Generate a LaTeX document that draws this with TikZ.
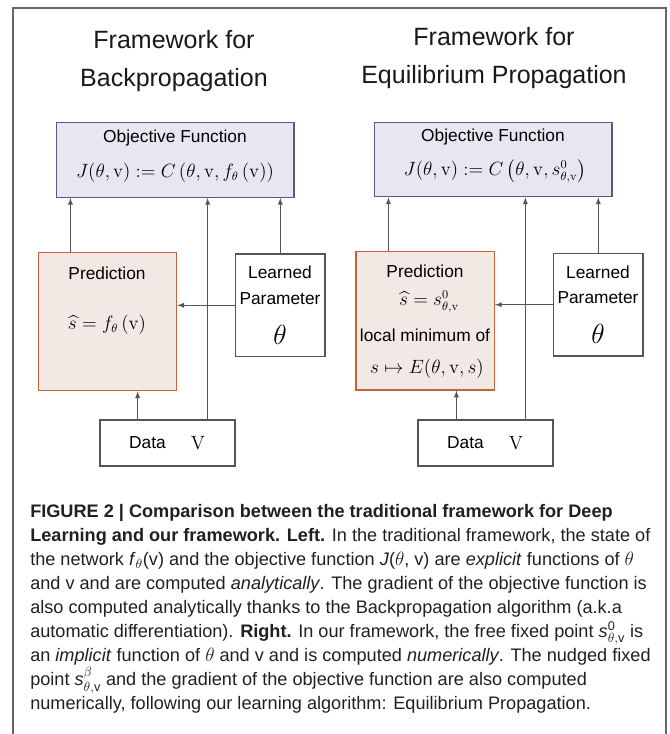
\documentclass[tikz,border=0pt]{standalone}
\usepackage{amsmath}
\usepackage[no-math]{fontspec}
\setmainfont{Liberation Sans}
\newfontfamily\capfont{Liberation Sans}

\definecolor{objfill}{RGB}{231,231,242}
\definecolor{objline}{RGB}{88,88,128}
\definecolor{predfill}{RGB}{243,233,228}
\definecolor{predline}{RGB}{196,100,60}
\definecolor{wire}{RGB}{85,85,85}
\definecolor{captext}{RGB}{35,31,32}

\begin{document}
\begin{tikzpicture}[x=0.75pt,y=-0.75pt,>=latex,
  objbox/.style={draw=objline,fill=objfill,line width=0.9pt,minimum width=178pt,minimum height=56pt,inner sep=0pt},
  predbox/.style={draw=predline,fill=predfill,line width=0.9pt,minimum width=103.8pt,minimum height=103.8pt,inner sep=0pt},
  parbox/.style={draw=wire,fill=white,line width=0.9pt,minimum width=67pt,minimum height=77pt,inner sep=0pt},
  databox/.style={draw=wire,fill=white,line width=0.9pt,minimum width=101.3pt,minimum height=34.5pt,inner sep=0pt},
  arr/.style={->,draw=wire,line width=0.75pt},
  lbl/.style={font=\fontsize{13}{15}\selectfont,inner sep=0pt},
  eq/.style={font=\fontsize{13.5}{16}\selectfont,inner sep=0pt},
  title/.style={font=\fontsize{18.75}{28}\selectfont,align=center,inner sep=0pt,text=black!90}]
\useasboundingbox (0,0) rectangle (669,734);
\draw[wire!90,line width=1.1pt] (13,740) -- (13,8) -- (666,8) -- (666,740);

% titles
\node[title] (ttlL) at (174,61) {Framework for\\Backpropagation};
\node[title] (ttlR) at (494,58) {Framework for\\Equilibrium Propagation};

% left: backpropagation
\node[objbox] (objL) at (175.3,160) {};
\node[predbox] (predL) at (107.5,321.5) {};
\node[parbox] (parL) at (280.3,305.3) {};
\node[databox] (dataL) at (167.5,443) {};

\node[lbl] (objLt) at (175,138) {Objective Function};
\node[eq] (objLf) at (175,173) {$J(\theta,\mathrm{v}) := C\left(\theta,\mathrm{v},f_{\theta}\left(\mathrm{v}\right)\right)$};
\node[lbl] (predLt) at (107,273) {Prediction};
\node[eq] (predLf) at (107,325) {$\widehat{s} = f_{\theta}\left(\mathrm{v}\right)$};
\node[lbl] (parLa) at (280,272) {Learned};
\node[lbl] (parLb) at (280,299) {Parameter};
\node[inner sep=0pt,font=\fontsize{21}{24}\selectfont] (parLc) at (280,335) {$\theta$};
\node[lbl] (dataLt) at (147.5,443) {Data};
\node[inner sep=0pt,font=\fontsize{15}{17}\selectfont] (dataLv) at (198,443) {$\mathrm{V}$};

\draw[arr] (predL.north west) ++(32.7,0) coordinate (pL) -- (pL |- objL.south);
\draw[arr] (dataL.north west) ++(108.3,0) coordinate (vL) -- (vL |- objL.south);
\draw[arr] (parL.north) -- (parL.north |- objL.south);
\draw[arr] (dataL.north west) ++(38.3,0) coordinate (dL) -- (dL |- predL.south);
\draw[arr] (parL.west) -- (parL.west -| predL.east);

% right: equilibrium propagation
\node[objbox] (objR) at (493.3,159.5) {};
\node[predbox] (predR) at (425.2,320.8) {};
\node[parbox] (parR) at (598.3,304.7) {};
\node[databox] (dataR) at (485.5,443) {};

\node[lbl] (objRt) at (493,137) {Objective Function};
\node[eq] (objRf) at (495,171) {$J(\theta,\mathrm{v}) := C\left(\theta,\mathrm{v},s^{0}_{\theta,\mathrm{v}}\right)$};
\node[lbl] (predRt) at (425,271.5) {Prediction};
\node[eq] (predRf) at (429,302) {$\widehat{s} = s^{0}_{\theta,\mathrm{v}}$};
\node[lbl] (predRm) at (425,335) {local minimum of};
\node[eq] (predRe) at (427,369) {$s \mapsto E(\theta,\mathrm{v},s)$};
\node[lbl] (parRa) at (598,272) {Learned};
\node[lbl] (parRb) at (598,298) {Parameter};
\node[inner sep=0pt,font=\fontsize{21}{24}\selectfont] (parRc) at (598,334) {$\theta$};
\node[lbl] (dataRt) at (465.5,443) {Data};
\node[inner sep=0pt,font=\fontsize{15}{17}\selectfont] (dataRv) at (516,443) {$\mathrm{V}$};

\draw[arr] (predR.north west) ++(33,0) coordinate (pR) -- (pR |- objR.south);
\draw[arr] (dataR.north west) ++(108,0) coordinate (vR) -- (vR |- objR.south);
\draw[arr] (parR.north) -- (parR.north |- objR.south);
\draw[arr] (dataR.north west) ++(39,0) coordinate (dR) -- (dR |- predR.south);
\draw[arr] (parR.west) -- (parR.west -| predR.east);

% caption
\node[anchor=north west,align=left,inner sep=0pt,text=captext,
  font=\capfont\fontsize{13.6}{18}\selectfont] (capt) at (30,504) {%
\textbf{FIGURE 2 | Comparison between the traditional framework for Deep}\\
\textbf{Learning and our framework. Left.} In the traditional framework, the state of\\
the network \textit{f}$_{\theta}$(v) and the objective function \textit{J}($\theta$, v) are \textit{explicit} functions of $\theta$\\
and v and are computed \textit{analytically}. The gradient of the objective function is\\
also computed analytically thanks to the Backpropagation algorithm (a.k.a\\
automatic differentiation). \textbf{Right.} In our framework, the free fixed point \textit{s}$^{\text{0}}_{\theta,\text{v}}$ is\\
an \textit{implicit} function of $\theta$ and v and is computed \textit{numerically}. The nudged fixed\\
point \textit{s}$^{\beta}_{\theta,\text{v}}$ and the gradient of the objective function are also computed\\
numerically, following our learning algorithm: Equilibrium Propagation.};
\end{tikzpicture}
\end{document}
